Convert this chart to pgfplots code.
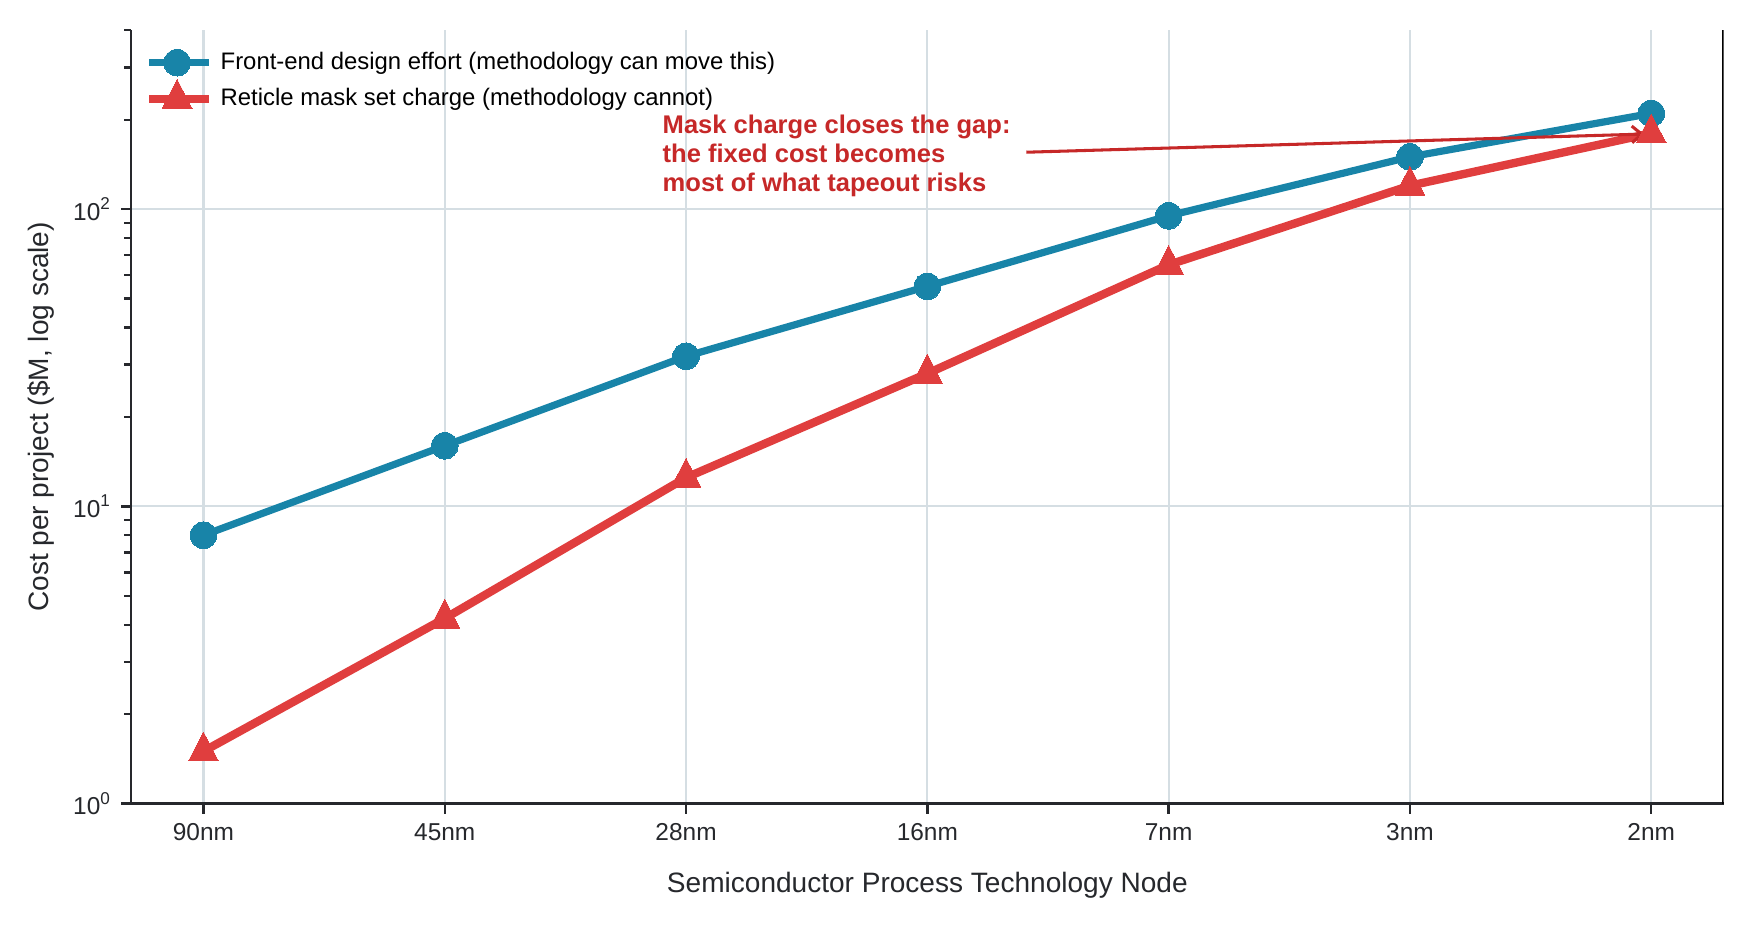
\documentclass[border=0pt]{standalone}
\usepackage{fontspec}
\setmainfont{Liberation Sans}
\usepackage{pgfplots}
\pgfplotsset{compat=1.18}
\usetikzlibrary{arrows.meta}
\definecolor{cblue}{RGB}{24,132,168}
\definecolor{cred}{RGB}{224,62,62}
\definecolor{cann}{RGB}{198,40,40}
\definecolor{cgrid}{RGB}{213,222,227}
\definecolor{cax}{RGB}{38,40,44}
\begin{document}
\begin{tikzpicture}
\begin{axis}[
  scale only axis, width=573.5pt, height=278.5pt,
  ymode=log, xmin=-0.3, xmax=6.3, ymin=1, ymax=400,
  xtick={0,1,2,3,4,5,6},
  xticklabels={90nm,45nm,28nm,16nm,7nm,3nm,2nm},
  ytick={1,10,100},
  yticklabels={10\textsuperscript{0},10\textsuperscript{1},10\textsuperscript{2}},
  minor ytick={2,3,4,5,6,7,8,9,20,30,40,50,60,70,80,90,200,300,400},
  axis x line*=bottom, axis y line*=left,
  axis line style={cax, line width=0.85pt},
  tick align=outside,
  major tick length=3.6pt, minor tick length=2.4pt,
  every tick/.style={cax, line width=0.85pt},
  xmajorgrids, ymajorgrids,
  major grid style={cgrid, line width=0.75pt},
  tick label style={font=\fontsize{8.8}{10}\selectfont, color=cax},
  label style={font=\fontsize{10.1}{12}\selectfont, color=cax},
  xlabel={Semiconductor Process Technology Node},
  ylabel={Cost per project (\$M, log scale)},
  xlabel style={at={(axis description cs:0.5,-0.106)}, anchor=center},
  ylabel style={at={(axis description cs:-0.0563,0.5)}, anchor=center},
  legend style={at={(axis description cs:0.0085,0.9795)}, anchor=north west,
    draw=none, fill=none, font=\fontsize{8.6}{10}\selectfont,
    row sep=0.3pt, inner sep=0pt,
    nodes={inner xsep=2.6pt, inner ysep=1.9pt}},
  legend cell align=left,
  legend image code/.code={\path (0pt,0pt) -- (21.6pt,0pt);\draw[mark repeat=2,mark phase=2,#1] plot coordinates {(0pt,0pt) (10pt,0pt) (20pt,0pt)};},
]
\addplot[cblue, line width=2.6pt, mark=*, mark size=4.8pt, mark options={solid, fill=cblue, draw=cblue, line width=0pt}]
  coordinates {(0,8) (1,16) (2,32) (3,55) (4,95) (5,150) (6,210)};
\addlegendentry{Front-end design effort (methodology can move this)}
\addplot[cred, line width=3.0pt, mark=triangle*, mark size=6.2pt, mark options={solid, fill=cred, draw=cred, line width=0pt, yscale=1.12}]
  coordinates {(0,1.5) (1,4.2) (2,12.5) (3,28) (4,65) (5,120) (6,180)};
\addlegendentry{Reticle mask set charge (methodology cannot)}
\draw[black, line width=1pt] (rel axis cs:1,0) -- (rel axis cs:1,1);
\draw[cann, line width=1.1pt, -{Straight Barb[length=3.5pt,width=6pt]}] (axis cs:3.41,155.5) -- (axis cs:5.97,179);
\node[anchor=west, align=left, text=cann, font=\bfseries\fontsize{9.2}{10.4}\selectfont, inner sep=0pt] at (axis cs:1.901,151.4)
  {Mask charge closes the gap:\\the fixed cost becomes\\most of what tapeout risks};
\end{axis}
\path ([shift={(-47.2pt,-45.1pt)}]current axis.south west) rectangle ([shift={(11.3pt,10.9pt)}]current axis.north east);
\end{tikzpicture}
\end{document}
